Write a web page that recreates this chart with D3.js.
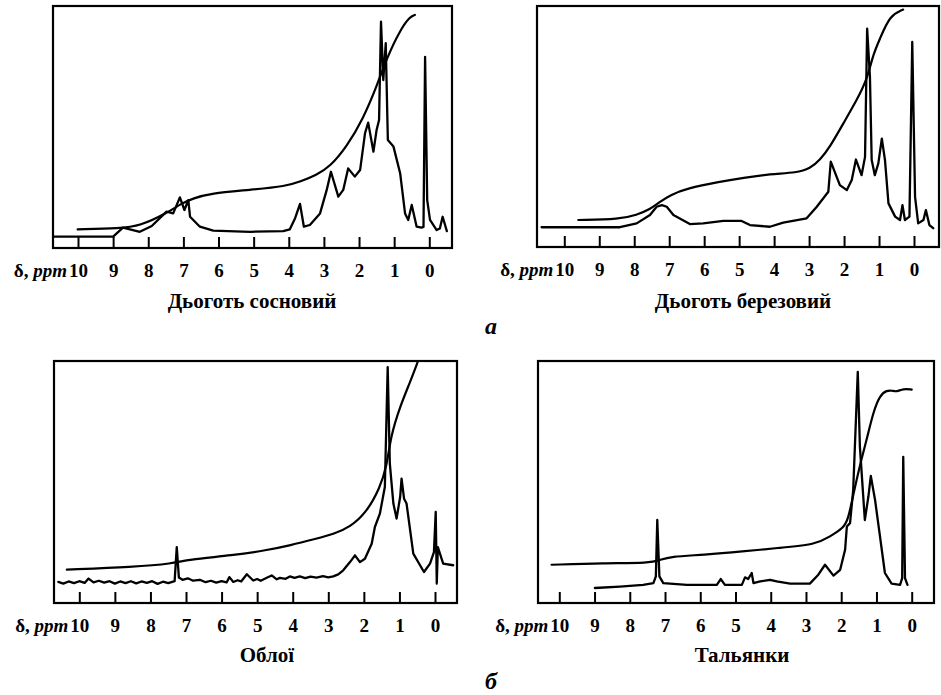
<!DOCTYPE html>
<html><head><meta charset="utf-8">
<script src="https://cdn.jsdelivr.net/npm/d3@7"></script>
<style>body{margin:0;background:#fff}svg{display:block}</style>
</head><body>
<svg id="c" width="941" height="695"></svg>
<script>
const ppmTicks = [10,9,8,7,6,5,4,3,2,1,0];
const panelTitles = ["Дьоготь сосновий","Дьоготь березовий","Облої","Тальянки"];
const groupLabels = ["а","б"];
const axisLabel = ["δ, ","ppm"];

// [ppm, relative intensity 0..100]
const pineSpectrum = [[10.71,4.7],[9.0,4.7],[8.72,8.4],[8.24,6.7],[7.90,9.1],[7.48,15.0],[7.29,14.3],[7.10,20.9],[6.97,15.7],[6.86,19.8],[6.81,12.9],[6.53,8.8],[6.15,7.2],[5.10,6.7],[4.16,7.0],[3.97,7.7],[3.82,12.3],[3.68,18.2],[3.57,8.8],[3.40,9.5],[3.11,14.3],[2.92,24.0],[2.80,31.5],[2.59,21.2],[2.45,24.0],[2.31,32.9],[2.12,29.5],[1.97,32.2],[1.83,47.4],[1.74,51.8],[1.59,39.8],[1.50,48.8],[1.43,52.9],[1.375,93.5],[1.31,69.4],[1.24,84.6],[1.18,44.6],[1.02,41.9],[0.83,30.9],[0.69,14.3],[0.60,11.6],[0.50,17.8],[0.36,8.8],[0.22,8.4],[0.165,8.7],[0.12,79.0],[0.06,19.8],[-0.02,11.6],[-0.21,7.4],[-0.30,8.1],[-0.38,12.9],[-0.50,7.0]];
const pineIntegral = [[10.01,7.7],[8.80,8.1],[8.24,9.1],[7.48,14.3],[7.05,18.5],[6.72,20.5],[6.24,22.6],[5.10,24.0],[4.06,25.6],[3.68,27.4],[3.21,30.2],[2.83,33.6],[2.35,41.9],[1.88,53.5],[1.50,66.7],[1.21,78.5],[0.83,90.1],[0.55,95.6],[0.41,96.3]];

const birchSpectrum = [[10.65,8.2],[8.41,8.2],[7.93,9.8],[7.55,13.3],[7.36,16.7],[7.21,17.4],[7.07,16.7],[6.88,13.3],[6.41,9.5],[6.03,9.8],[5.45,10.8],[4.93,10.8],[4.69,9.1],[4.12,8.4],[3.74,10.1],[3.07,11.9],[2.78,16.7],[2.45,22.9],[2.38,35.4],[2.12,25.7],[1.92,23.6],[1.78,27.8],[1.66,36.3],[1.50,29.8],[1.40,37.4],[1.34,90.6],[1.26,70.6],[1.21,36.1],[1.12,29.8],[1.02,34.7],[0.92,45.0],[0.83,36.1],[0.73,18.1],[0.54,12.6],[0.40,11.2],[0.33,17.4],[0.26,11.2],[0.13,12.6],[0.05,85.1],[-0.03,20.8],[-0.12,9.8],[-0.27,11.2],[-0.34,15.3],[-0.44,9.1],[-0.55,7.8]];
const birchIntegral = [[9.60,11.2],[8.41,11.5],[7.93,13.3],[7.55,15.6],[7.26,18.8],[6.98,21.5],[6.50,24.3],[5.55,27.1],[4.88,28.7],[4.12,30.3],[3.35,30.8],[2.97,32.6],[2.69,36.1],[2.40,41.6],[2.02,51.3],[1.64,60.9],[1.35,69.2],[1.16,80.3],[0.97,86.5],[0.69,96.1],[0.31,98.5]];

const obloiSpectrum = [[10.59,8.7],[10.45,8.0],[10.3,8.9],[10.15,8.2],[10.0,9.0],[9.85,8.3],[9.74,10.1],[9.6,8.5],[9.45,9.2],[9.3,8.4],[9.15,9.0],[9.0,8.0],[8.85,8.9],[8.7,8.2],[8.55,9.0],[8.4,8.1],[8.25,8.9],[8.1,8.3],[7.95,9.0],[7.8,7.9],[7.65,8.8],[7.5,8.2],[7.32,9.0],[7.26,23.1],[7.2,10.5],[7.1,9.6],[6.95,10.2],[6.8,9.2],[6.61,9.6],[6.45,8.6],[6.3,9.2],[6.15,8.4],[6.0,9.0],[5.86,8.5],[5.78,10.7],[5.67,8.7],[5.55,9.4],[5.45,8.9],[5.29,11.9],[5.11,9.3],[5.0,9.9],[4.9,9.2],[4.73,10.4],[4.59,11.4],[4.45,9.8],[4.36,10.4],[4.2,10.0],[4.08,11.0],[3.95,10.4],[3.8,11.0],[3.65,10.3],[3.5,10.9],[3.33,10.5],[3.15,11.1],[3.0,10.6],[2.86,11.0],[2.72,11.8],[2.58,13.5],[2.39,16.9],[2.25,19.7],[2.11,16.9],[1.97,18.3],[1.78,24.5],[1.69,31.4],[1.55,36.9],[1.41,47.9],[1.33,97.5],[1.27,57.6],[1.17,41.1],[1.08,34.9],[0.98,43.8],[0.94,51.4],[0.87,43.1],[0.80,41.1],[0.61,20.4],[0.42,15.6],[0.31,12.8],[0.14,16.3],[0.03,21.0],[-0.02,37.6],[-0.05,8.0],[-0.08,23.1],[-0.23,16.3],[-0.51,15.6]];
const obloiIntegral = [[10.35,13.8],[8.48,14.9],[7.36,16.3],[6.98,17.9],[5.67,19.7],[4.73,21.8],[4.08,23.8],[3.33,26.6],[2.86,28.4],[2.39,31.3],[1.92,37.5],[1.55,47.6],[1.36,56.1],[1.24,69.3],[0.98,81.3],[0.70,91.3],[0.49,99.5]];

const talSpectrum = [[8.99,6.2],[8.28,6.8],[7.62,7.5],[7.33,8.2],[7.26,11.0],[7.22,34.3],[7.16,11.0],[7.05,8.2],[6.38,7.5],[5.53,7.5],[5.42,9.9],[5.30,7.5],[4.82,7.5],[4.73,10.6],[4.64,9.9],[4.54,12.4],[4.49,8.2],[4.30,8.9],[4.02,9.6],[3.83,8.9],[3.45,8.0],[2.89,8.0],[2.65,11.7],[2.46,15.8],[2.22,11.3],[2.03,13.7],[1.89,22.0],[1.84,31.6],[1.75,33.0],[1.66,46.7],[1.53,95.5],[1.47,64.6],[1.33,34.3],[1.23,43.9],[1.16,52.5],[1.04,42.6],[0.90,27.5],[0.76,12.4],[0.57,8.0],[0.33,7.5],[0.27,10.3],[0.24,60.4],[0.19,10.3],[0.12,7.5]];
const talIntegral = [[10.22,15.8],[8.75,16.5],[7.43,16.5],[7.14,17.8],[6.86,19.2],[5.91,19.9],[4.78,21.3],[3.83,22.7],[2.70,24.2],[2.32,27.5],[1.94,30.9],[1.80,34.7],[1.66,44.6],[1.47,57.0],[1.28,67.3],[1.09,79.0],[0.90,85.9],[0.71,87.9],[0.55,87.8],[0.43,87.2],[0.24,88.6],[0.0,88.2]];

const svg = d3.select("#c");
const serif = "'Liberation Serif','Times New Roman',serif";

const panels = [
  {title: panelTitles[0], spectrum: pineSpectrum, integral: pineIntegral, frame:[53,6,452,248], x10:78, x0:429.3, tx:252, ty:308},
  {title: panelTitles[1], spectrum: birchSpectrum, integral: birchIntegral, frame:[537,6,939,247], x10:564.3, x0:914, tx:743, ty:308},
  {title: panelTitles[2], spectrum: obloiSpectrum, integral: obloiIntegral, frame:[54,361,457,603], x10:79.3, x0:435, tx:267, ty:662},
  {title: panelTitles[3], spectrum: talSpectrum, integral: talIntegral, frame:[538,361,934,603], x10:559.3, x0:911.7, tx:742, ty:662}
];

panels.forEach(p => {
  const [l,t,r,b] = p.frame;
  const x = d3.scaleLinear().domain([10,0]).range([p.x10, p.x0]);
  const y = d3.scaleLinear().domain([0,100]).range([b, t]);
  const g = svg.append("g");
  g.append("rect").attr("x",l).attr("y",t).attr("width",r-l).attr("height",b-t)
    .attr("fill","none").attr("stroke","#000").attr("stroke-width",2.2);
  const axis = d3.axisBottom(x).tickValues(ppmTicks).tickSizeInner(-11).tickSizeOuter(0)
    .tickPadding(15.5).tickFormat(d3.format("d"));
  const ag = g.append("g").attr("transform",`translate(0,${b})`).call(axis);
  ag.select(".domain").remove();
  ag.selectAll("line").attr("stroke","#000").attr("stroke-width",2);
  ag.selectAll("text").attr("font-family",serif).attr("font-size",19).attr("font-weight","bold").attr("fill","#000");

  const lab = g.append("text").attr("x", p.x10 - 11).attr("y", b + 29).attr("text-anchor","end")
    .attr("font-family",serif).attr("font-size",19).attr("font-weight","bold").attr("fill","#000");
  lab.append("tspan").text(axisLabel[0]);
  lab.append("tspan").attr("font-style","italic").text(axisLabel[1]);

  const line = d3.line().x(d => x(d[0])).y(d => y(d[1]));
  const smooth = d3.line().curve(d3.curveBasis).x(d => x(d[0])).y(d => y(d[1]));
  g.append("path").datum(p.integral).attr("d", smooth).attr("fill","none").attr("stroke","#000")
    .attr("stroke-width",2.2).attr("stroke-linejoin","round").attr("stroke-linecap","round");
  g.append("path").datum(p.spectrum).attr("d", line).attr("fill","none").attr("stroke","#000")
    .attr("stroke-width",2.3).attr("stroke-linejoin","round").attr("stroke-linecap","round");

  g.append("text").attr("x", p.tx).attr("y", p.ty).attr("text-anchor","middle")
    .attr("font-family",serif).attr("font-size",21).attr("font-weight","bold").attr("fill","#000")
    .text(p.title);
});

svg.append("text").attr("x",491).attr("y",334).attr("text-anchor","middle")
  .attr("font-family",serif).attr("font-size",24).attr("font-weight","bold").attr("font-style","italic")
  .text(groupLabels[0]);
svg.append("text").attr("x",491).attr("y",689).attr("text-anchor","middle")
  .attr("font-family",serif).attr("font-size",24).attr("font-weight","bold").attr("font-style","italic")
  .text(groupLabels[1]);
</script>
</body></html>
